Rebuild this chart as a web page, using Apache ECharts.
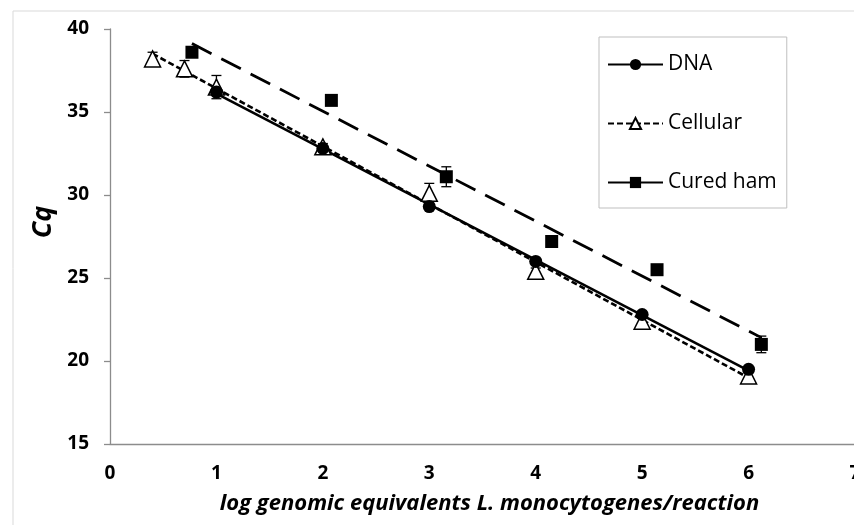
<!DOCTYPE html>
<html>
<head>
<meta charset="utf-8">
<script src="https://cdn.jsdelivr.net/npm/echarts@6/dist/echarts.min.js"></script>
<style>
html,body{margin:0;padding:0;background:#fff;}
#chart{width:854px;height:525px;}
</style>
</head>
<body>
<div id="chart"></div>
<script>
// ---- data ----
var xTicks = [0, 1, 2, 3, 4, 5, 6, 7];
var yTicks = [15, 20, 25, 30, 35, 40];

var dnaX = [1, 2, 3, 4, 5, 6];
var dnaY = [36.2, 32.8, 29.3, 26.0, 22.8, 19.5];
var dnaErr = [0.2, 0.1, 0.1, 0.1, 0.1, 0.1];

var cellularX = [0.4, 0.7, 1, 2, 3, 4, 5, 6];
var cellularY = [38.2, 37.6, 36.5, 32.9, 30.1, 25.4, 22.4, 19.1];
var cellularErr = [0.4, 0.5, 0.7, 0.2, 0.6, 0.2, 0.2, 0.2];

var hamX = [0.77, 2.08, 3.16, 4.15, 5.14, 6.12];
var hamY = [38.6, 35.7, 31.1, 27.2, 25.5, 21.0];
var hamErr = [0.3, 0.3, 0.6, 0.2, 0.2, 0.5];

var seriesNames = ['DNA', 'Cellular', 'Cured ham'];
var xTitle = 'log genomic equivalents L. monocytogenes/reaction';
var yTitle = 'Cq';

// ---- helpers ----
function pairs(xs, ys) { return xs.map(function (x, i) { return [x, ys[i]]; }); }
function triples(xs, ys, es) { return xs.map(function (x, i) { return [x, ys[i], es[i]]; }); }
function trend(xs, ys) {
  var n = xs.length, mx = 0, my = 0;
  for (var i = 0; i < n; i++) { mx += xs[i]; my += ys[i]; }
  mx /= n; my /= n;
  var sxy = 0, sxx = 0;
  for (i = 0; i < n; i++) { sxy += (xs[i] - mx) * (ys[i] - my); sxx += (xs[i] - mx) * (xs[i] - mx); }
  var b = sxy / sxx, a = my - b * mx;
  var x0 = Math.min.apply(null, xs), x1 = Math.max.apply(null, xs);
  return [[x0, a + b * x0], [x1, a + b * x1]];
}
function errSeries(data) {
  return {
    type: 'custom', silent: true, z: 5,
    renderItem: function (params, api) {
      var x = api.value(0), y = api.value(1), e = api.value(2);
      var top = api.coord([x, y + e]), bot = api.coord([x, y - e]);
      var w = 5;
      return {
        type: 'group', children: [
          { type: 'line', shape: { x1: top[0], y1: top[1], x2: bot[0], y2: bot[1] }, style: { stroke: '#000', lineWidth: 1.3 } },
          { type: 'line', shape: { x1: top[0] - w, y1: top[1], x2: top[0] + w, y2: top[1] }, style: { stroke: '#000', lineWidth: 1.3 } },
          { type: 'line', shape: { x1: bot[0] - w, y1: bot[1], x2: bot[0] + w, y2: bot[1] }, style: { stroke: '#000', lineWidth: 1.3 } }
        ]
      };
    },
    data: data
  };
}

var FONT = 'Open Sans';
var axisGray = '#8c8c8c';

var chart = echarts.init(document.getElementById('chart'), null, { renderer: 'canvas' });
chart.setOption({
  animation: false,
  backgroundColor: '#fff',
  graphic: [{
    type: 'rect', z: -10, silent: true,
    shape: { x: 13, y: 11, width: 900, height: 600 },
    style: { fill: 'none', stroke: '#d9d9d9', lineWidth: 1 }
  }, {
    type: 'text', x: 43, y: 222, rotation: Math.PI / 2, silent: true,
    style: { text: yTitle, fontFamily: FONT, fontSize: 27, fontWeight: 'bold', fontStyle: 'italic', fill: '#000', align: 'center', verticalAlign: 'middle' }
  }],
  grid: { left: 110, top: 29, width: 745, height: 415, containLabel: false, outerBoundsMode: 'none' },
  legend: {
    orient: 'vertical', left: 599, top: 37,
    data: seriesNames,
    itemWidth: 55, itemHeight: 14, itemGap: 38,
    padding: [17, 10, 15, 8],
    borderColor: '#bfbfbf', borderWidth: 1, backgroundColor: '#fff',
    textStyle: { fontFamily: FONT, fontSize: 21, color: '#000' },
    selectedMode: false
  },
  xAxis: {
    type: 'value', min: xTicks[0], max: xTicks[xTicks.length - 1], interval: 1,
    name: xTitle, nameLocation: 'middle', nameGap: 49,
    nameTextStyle: { fontFamily: FONT, fontSize: 22, fontWeight: 'bold', fontStyle: 'italic', color: '#000', padding: [0, 0, 0, 14] },
    axisLine: { show: true, lineStyle: { color: axisGray, width: 1.3 } },
    axisTick: { show: false },
    splitLine: { show: false },
    axisLabel: { margin: 20, fontFamily: FONT, fontSize: 19, fontWeight: 'bold', color: '#000' }
  },
  yAxis: {
    type: 'value', min: yTicks[0], max: yTicks[yTicks.length - 1], interval: 5,
    axisLine: { show: true, lineStyle: { color: axisGray, width: 1.3 } },
    axisTick: { show: true, length: 6, lineStyle: { color: axisGray, width: 1.3 } },
    splitLine: { show: false },
    axisLabel: { margin: 21, fontFamily: FONT, fontSize: 19, fontWeight: 'bold', color: '#000' }
  },
  series: [
    {
      name: 'DNA', type: 'line', data: trend(dnaX, dnaY), showSymbol: false, symbol: 'circle', symbolSize: 12, z: 2,
      itemStyle: { color: '#000' }, lineStyle: { color: '#000', width: 2.6, type: 'solid' }
    },
    {
      name: 'Cellular', type: 'line', data: trend(cellularX, cellularY), showSymbol: false, symbol: 'triangle', symbolSize: 13, z: 2,
      itemStyle: { color: '#fff', borderColor: '#000', borderWidth: 1.5 }, lineStyle: { color: '#000', width: 2.6, type: [6, 3] }
    },
    {
      name: 'Cured ham', type: 'line', data: trend(hamX, hamY), showSymbol: false, symbol: 'rect', symbolSize: 12, z: 2,
      itemStyle: { color: '#000' }, lineStyle: { color: '#000', width: 2.8, type: [22, 11] }
    },
    errSeries(triples(cellularX, cellularY, cellularErr)),
    errSeries(triples(dnaX, dnaY, dnaErr)),
    errSeries(triples(hamX, hamY, hamErr)),
    {
      name: 'Cellular pts', type: 'scatter', data: pairs(cellularX, cellularY), symbol: 'triangle', symbolSize: 16, z: 6,
      itemStyle: { color: '#fff', borderColor: '#000', borderWidth: 1.5, opacity: 1 }
    },
    {
      name: 'DNA pts', type: 'scatter', data: pairs(dnaX, dnaY), symbol: 'circle', symbolSize: 13, z: 7,
      itemStyle: { color: '#000', opacity: 1 }
    },
    {
      name: 'Cured ham pts', type: 'scatter', data: pairs(hamX, hamY), symbol: 'rect', symbolSize: 13, z: 7,
      itemStyle: { color: '#000', opacity: 1 }
    }
  ]
});
</script>
</body>
</html>
